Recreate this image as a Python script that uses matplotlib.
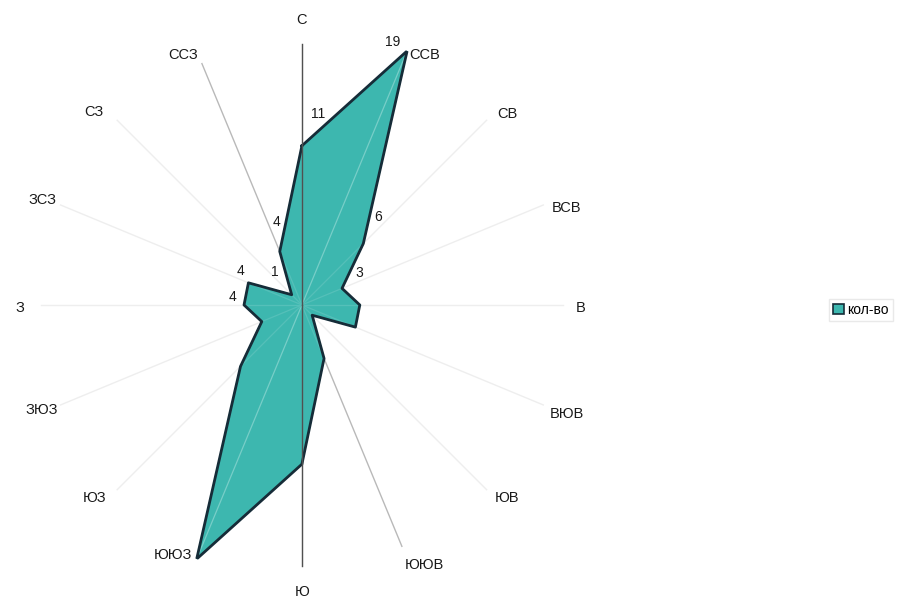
import numpy as np
import matplotlib
matplotlib.use("Agg")
import matplotlib.pyplot as plt

plt.rcParams["font.family"] = ["Liberation Sans", "DejaVu Sans"]

# wind directions, clockwise from north
directions = ["С", "ССВ", "СВ", "ВСВ", "В", "ВЮВ", "ЮВ", "ЮЮВ",
              "Ю", "ЮЮЗ", "ЮЗ", "ЗЮЗ", "З", "ЗСЗ", "СЗ", "ССЗ"]
counts = [11, 19, 6, 3, 4, 4, 1, 4, 11, 19, 6, 3, 4, 4, 1, 4]
# data labels are only shown for these directions
labelled = ["С", "ССВ", "СВ", "ВСВ", "З", "ЗСЗ", "СЗ", "ССЗ"]
series_name = "кол-во"

FILL = "#3db7af"
EDGE = "#162c38"
RMAX = 19.0
LABEL_R = 19.5

# nudges (pixels, x right / y down) for direction labels
dir_nudge = {
    "С": (0, -3), "ССВ": (2, 4), "СВ": (6, 9), "ВСВ": (4, 11), "В": (-4, 3),
    "ВЮВ": (4, 1), "ЮВ": (6, -7), "ЮЮВ": (-2, 6), "Ю": (0, 5),
    "ЮЮЗ": (-5, -4), "ЮЗ": (-8, -7), "ЗЮЗ": (1, -3), "З": (0, 3),
    "ЗСЗ": (1, 3), "СЗ": (-8, 7), "ССЗ": (1, 4),
}
# offsets (pixels, x right / y down) for value labels
val_offset = {
    "С": (16, -32), "ССВ": (-15, -9), "СВ": (15, -27), "ВСВ": (17, -15),
    "З": (-12, -8), "ЗСЗ": (-8, -12), "СЗ": (-17, -23), "ССЗ": (-3, -29),
}

fig = plt.figure(figsize=(9.22, 6.02), dpi=100)
ax = fig.add_axes([0.0292, 0.0366, 0.5965, 0.9136], projection="polar")
ax.set_theta_zero_location("N")
ax.set_theta_direction(-1)
ax.set_ylim(0, RMAX)
ax.grid(False)
ax.spines["polar"].set_visible(False)
ax.set_xticks([])
ax.set_yticks([])

theta = np.deg2rad(np.arange(len(directions)) * 22.5)

# spokes (very faint, except the ССЗ–ЮЮВ one)
for name, t in zip(directions, theta):
    col = "#b9b9b9" if name in ("ССЗ", "ЮЮВ") else "#eeeeee"
    ax.plot([t, t], [0, RMAX * 0.95], color=col, lw=1, zorder=1)

t_closed = np.append(theta, theta[0])
r_closed = np.append(counts, counts[0])
ax.fill(t_closed, r_closed, color=FILL, zorder=2)

# spokes showing through the fill
for name, t, v in zip(directions, theta, counts):
    col = "#78cec8" if name in ("ССВ", "ЮЮЗ") else "#55c0b9"
    ax.plot([t, t], [0, v], color=col, lw=0.9, zorder=3)
ax.plot(t_closed, r_closed, color=EDGE, lw=2, zorder=4)

# north-south axis
ax.plot([0, 0], [0, RMAX * 0.95], color="#505050", lw=1, zorder=5)
ax.plot([np.pi, np.pi], [0, RMAX * 0.95], color="#505050", lw=1, zorder=5)

# direction labels
for name, t in zip(directions, theta):
    dx, dy = dir_nudge[name]
    if name in ("ССВ", "ЮЮВ"):
        r, ha = RMAX, "left"
    elif name in ("ССЗ", "ЮЮЗ"):
        r, ha = RMAX, "right"
    else:
        r, ha = LABEL_R, "center"
    ax.annotate(name, (t, r), xytext=(dx, -dy), textcoords="offset pixels",
                ha=ha, va="center", fontsize=10.5, color="#1a1a1a",
                annotation_clip=False)

# value labels
for name, t, v in zip(directions, theta, counts):
    if name not in labelled:
        continue
    dx, dy = val_offset[name]
    ax.annotate(str(v), (t, v), xytext=(dx, -dy), textcoords="offset pixels",
                ha="center", va="center", fontsize=10, color="#1a1a1a")

handle = plt.Rectangle((0, 0), 1, 1, facecolor=FILL, edgecolor=EDGE, lw=1.2)
fig.legend([handle], [series_name], loc="center left",
           bbox_to_anchor=(822 / 922, 1 - 310 / 602), fontsize=10,
           frameon=True, edgecolor="#e4e4e4", fancybox=False,
           handlelength=0.8, handleheight=0.8, handletextpad=0.2,
           borderpad=0.3)

fig.savefig("out.png", dpi=100)
